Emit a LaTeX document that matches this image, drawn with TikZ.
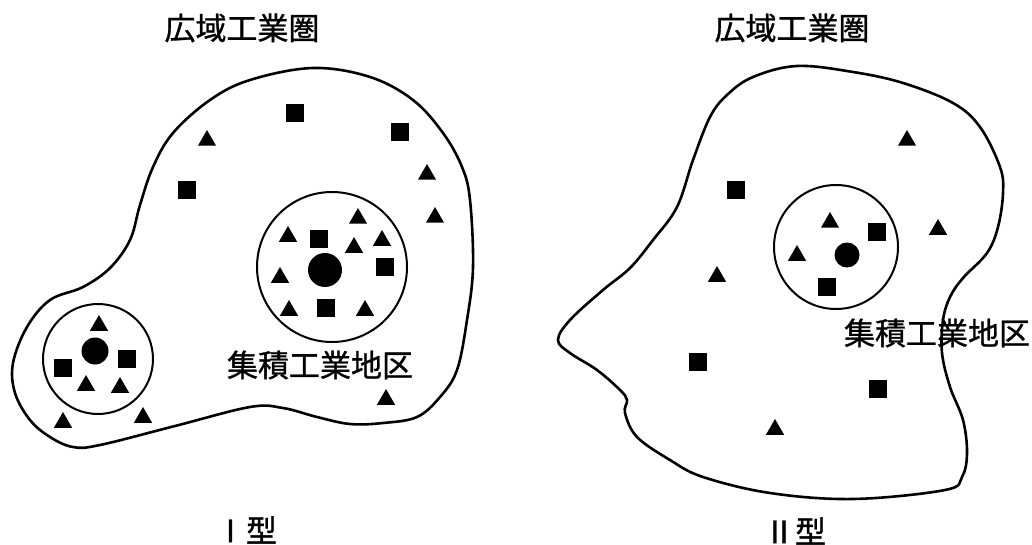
\documentclass[tikz,border=0pt]{standalone}
\usepackage{fontspec}
\newfontfamily\cjk[FakeBold=1]{Noto Sans CJK JP}
\usetikzlibrary{shapes.geometric}
\begin{document}
\begin{tikzpicture}[x=1pt,y=-1pt,
 tri/.style={regular polygon, regular polygon sides=3, fill=black, minimum size=21pt, inner sep=0pt, yshift=-2.5pt},
 sq/.style={rectangle, fill=black, minimum size=18pt, inner sep=0pt},
 dot/.style={circle, fill=black, inner sep=0pt},
 zone/.style={line width=2.6pt, line join=round},
 ring/.style={draw, circle, line width=2pt, inner sep=0pt},
 lab/.style={font={\cjk\fontsize{31}{31}\selectfont}, inner sep=0pt}]
\useasboundingbox (0,0) rectangle (1032,545);
\fill[white] (0,0) rectangle (1032,545);

% ---------- Type I ----------
\draw[zone] plot[smooth cycle, tension=0.6] coordinates {
 (313,68) (370,77) (413,100) (443,133) (462,167) (470,200) (473,267) (467,320)
 (457,370) (440,397) (417,417) (383,423) (350,424) (317,417) (283,408) (250,407)
 (175,426) (100,445) (73,447) (50,437) (30,420) (15,393) (13,363) (27,327)
 (50,300) (83,287) (110,268) (130,240) (140,205) (153,167) (173,133) (210,100) (250,80)};

\node[ring, minimum size=150pt] (c1) at (332,267) {};
\node[ring, minimum size=110pt] (c2) at (98,359) {};
\node[dot, minimum size=34pt] (d1) at (325,270) {};
\node[dot, minimum size=27pt] (d2) at (95,351) {};

\node[sq] (a1) at (295,113) {};
\node[sq] (a2) at (400,132) {};
\node[tri] (a3) at (207,138) {};
\node[sq] (a4) at (187,190) {};
\node[tri] (a5) at (427,172) {};
\node[tri] (a6) at (435,215) {};
\node[tri] (a7) at (358,216) {};
\node[tri] (a8) at (288,234) {};
\node[sq] (a9) at (319,239) {};
\node[tri] (a10) at (354,245) {};
\node[tri] (a11) at (382,238) {};
\node[sq] (a12) at (385,267) {};
\node[tri] (a13) at (280,275) {};
\node[tri] (a14) at (289,308) {};
\node[sq] (a15) at (326,308) {};
\node[tri] (a16) at (365,308) {};
\node[tri] (a17) at (386,397) {};
\node[tri] (a18) at (99,323) {};
\node[sq] (a19) at (63,368) {};
\node[sq] (a20) at (127,359) {};
\node[tri] (a21) at (86,383) {};
\node[tri] (a22) at (120,385) {};
\node[tri] (a23) at (63,420) {};
\node[tri] (a24) at (143,415) {};

\node[lab] (t1) at (242,28) {広域工業圏};
\node[lab] (k1) at (320,365) {集積工業地区};
\node[lab] (g1) at (246,530) {Ⅰ型};

% ---------- Type II ----------
\draw[zone] plot[smooth cycle, tension=0.6] coordinates {
 (797,66) (853,72) (903,83) (953,103) (980,127) (1000,167) (1003,193) (998,227)
 (987,253) (963,278) (950,297) (943,320) (942,353) (950,387) (963,420) (967,453)
 (962,477) (945,490) (853,499) (770,493) (703,477) (670,460) (637,437) (625,413)
 (627,400) (620,390) (597,370) (570,353) (558,340) (570,320) (603,290) (630,268)
 (653,240) (677,207) (693,160) (710,117) (727,95) (753,77)};

\node[ring, minimum size=124pt] (c3) at (836,247) {};
\node[dot, minimum size=25pt] (d3) at (847,255) {};

\node[tri] (b1) at (907,138) {};
\node[sq] (b2) at (736,190) {};
\node[tri] (b3) at (830,220) {};
\node[sq] (b4) at (877,232) {};
\node[tri] (b5) at (938,227) {};
\node[tri] (b6) at (797,253) {};
\node[tri] (b7) at (717,274) {};
\node[sq] (b8) at (827,287) {};
\node[sq] (b9) at (698,362) {};
\node[sq] (b10) at (878,389) {};
\node[tri] (b11) at (775,427) {};

\node[lab] (t2) at (792,28) {広域工業圏};
\node[lab] (k2) at (937,333) {集積工業地区};
\node[lab] (g2) at (795,531) {Ⅱ型};
\end{tikzpicture}
\end{document}
